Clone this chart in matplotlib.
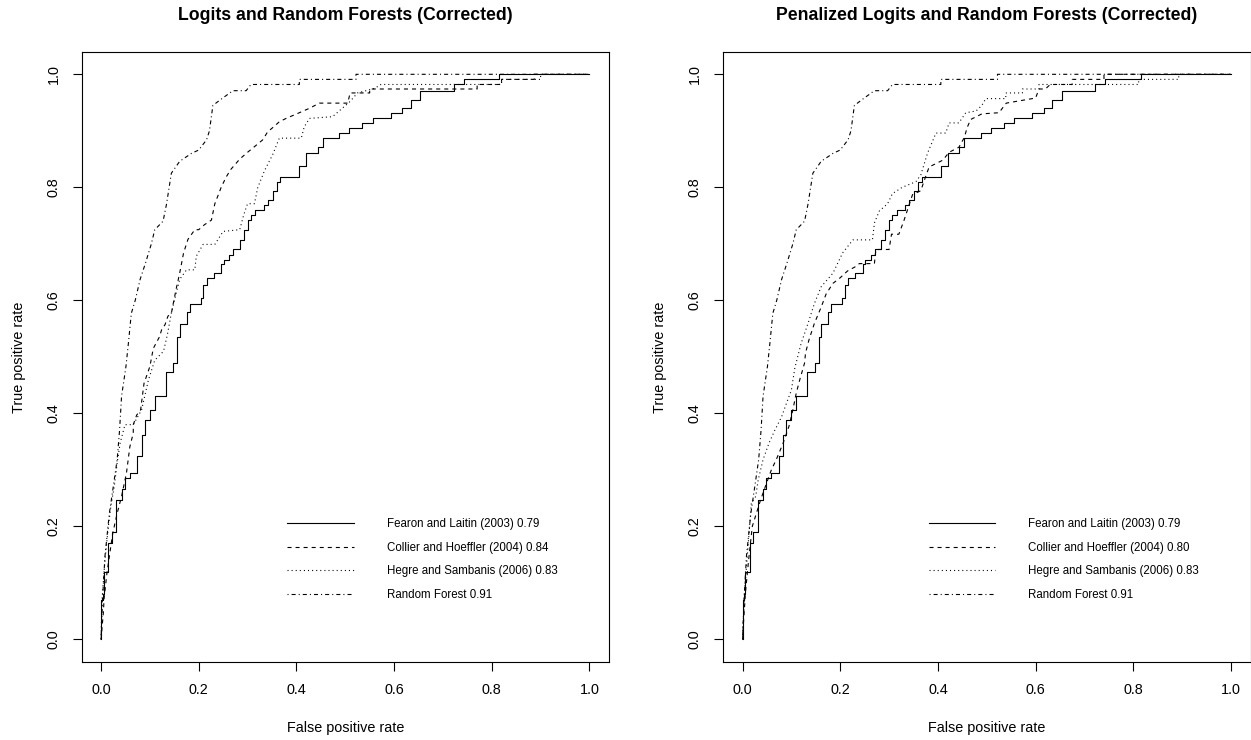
import matplotlib
matplotlib.use("Agg")
import matplotlib.pyplot as plt

plt.rcParams['font.family'] = ['Liberation Sans', 'DejaVu Sans']
plt.rcParams['lines.scale_dashes'] = False

# ROC points (false positive rate, true positive rate)

# Fearon and Laitin (2003) - same curve in both panels
fl_pts = [(0, 0), (0.003, 0.07), (0.006, 0.081), (0.015, 0.12), (0.022, 0.17), (0.031, 0.19),
          (0.042, 0.247), (0.049, 0.267), (0.059, 0.285), (0.074, 0.294), (0.083, 0.324),
          (0.09, 0.362), (0.1, 0.389), (0.11, 0.406), (0.119, 0.43), (0.133, 0.43),
          (0.135, 0.474), (0.148, 0.474), (0.156, 0.49), (0.161, 0.535), (0.175, 0.559),
          (0.182, 0.58), (0.188, 0.594), (0.204, 0.594), (0.209, 0.604), (0.216, 0.628),
          (0.221, 0.64), (0.231, 0.64), (0.246, 0.648), (0.251, 0.665), (0.262, 0.672),
          (0.271, 0.681), (0.284, 0.69), (0.292, 0.707), (0.3, 0.725), (0.307, 0.742),
          (0.316, 0.751), (0.333, 0.76), (0.341, 0.769), (0.352, 0.778), (0.36, 0.793),
          (0.367, 0.81), (0.376, 0.819), (0.406, 0.819), (0.42, 0.837), (0.428, 0.861),
          (0.444, 0.861), (0.454, 0.872), (0.461, 0.887), (0.488, 0.887), (0.488, 0.897),
          (0.508, 0.897), (0.512, 0.905), (0.535, 0.905), (0.539, 0.914), (0.556, 0.914),
          (0.556, 0.922), (0.593, 0.922), (0.597, 0.932), (0.617, 0.932), (0.617, 0.94),
          (0.634, 0.94), (0.636, 0.955), (0.654, 0.955), (0.658, 0.971), (0.722, 0.971),
          (0.722, 0.982), (0.743, 0.982), (0.743, 0.991), (0.815, 0.991), (0.815, 1.0), (1, 1)]

# Random Forest - same curve in both panels
rf_pts = [(0, 0), (0.003, 0.07), (0.008, 0.147), (0.017, 0.223), (0.025, 0.27), (0.033, 0.318),
          (0.038, 0.371), (0.042, 0.43), (0.051, 0.483), (0.056, 0.524), (0.062, 0.577),
          (0.07, 0.6), (0.08, 0.637), (0.091, 0.666), (0.103, 0.7), (0.11, 0.725),
          (0.127, 0.74), (0.134, 0.77), (0.144, 0.825), (0.161, 0.846), (0.185, 0.86),
          (0.2, 0.866), (0.216, 0.884), (0.222, 0.9), (0.229, 0.945), (0.246, 0.956),
          (0.27, 0.971), (0.297, 0.971), (0.307, 0.982), (0.406, 0.982), (0.406, 0.991),
          (0.522, 0.991), (0.522, 1.0), (1, 1)]

# Collier and Hoeffler (2004), logit
ch_pts = [(0, 0), (0.005, 0.05), (0.006, 0.07), (0.012, 0.117), (0.024, 0.188), (0.033, 0.223),
          (0.042, 0.253), (0.052, 0.294), (0.059, 0.341), (0.066, 0.365), (0.066, 0.38),
          (0.073, 0.397), (0.081, 0.406), (0.088, 0.453), (0.1, 0.483), (0.107, 0.515),
          (0.12, 0.536), (0.124, 0.548), (0.131, 0.557), (0.137, 0.572), (0.144, 0.577),
          (0.148, 0.595), (0.154, 0.621), (0.161, 0.648), (0.169, 0.684), (0.178, 0.708),
          (0.192, 0.725), (0.2, 0.725), (0.212, 0.734), (0.226, 0.742), (0.233, 0.771),
          (0.246, 0.8), (0.256, 0.818), (0.266, 0.832), (0.284, 0.85), (0.3, 0.862),
          (0.317, 0.874), (0.331, 0.884), (0.341, 0.898), (0.352, 0.906), (0.365, 0.916),
          (0.379, 0.922), (0.406, 0.932), (0.427, 0.94), (0.447, 0.949), (0.505, 0.949),
          (0.51, 0.967), (0.55, 0.967), (0.55, 0.974), (0.77, 0.974), (0.77, 0.982),
          (0.82, 0.982), (0.82, 0.991), (0.887, 0.991), (0.887, 1.0), (1, 1)]

# Hegre and Sambanis (2006), logit
hs_pts = [(0, 0), (0.002, 0.07), (0.008, 0.14), (0.015, 0.2), (0.02, 0.235), (0.027, 0.27),
          (0.033, 0.312), (0.039, 0.347), (0.049, 0.38), (0.066, 0.38), (0.083, 0.406),
          (0.097, 0.459), (0.11, 0.494), (0.128, 0.51), (0.136, 0.54), (0.144, 0.578),
          (0.154, 0.613), (0.161, 0.637), (0.175, 0.654), (0.192, 0.654), (0.195, 0.678),
          (0.209, 0.699), (0.233, 0.699), (0.25, 0.722), (0.284, 0.725), (0.292, 0.751),
          (0.3, 0.771), (0.314, 0.771), (0.321, 0.8), (0.335, 0.83), (0.352, 0.859),
          (0.365, 0.887), (0.41, 0.887), (0.416, 0.907), (0.427, 0.922), (0.474, 0.925),
          (0.494, 0.94), (0.51, 0.952), (0.525, 0.967), (0.56, 0.975), (0.573, 0.982),
          (0.82, 0.982), (0.82, 0.991), (0.9, 0.991), (0.9, 1.0), (1, 1)]

# Collier and Hoeffler (2004), penalized logit
ch_pen_pts = [(0, 0), (0.002, 0.03), (0.006, 0.083), (0.0125, 0.141), (0.02, 0.2), (0.037, 0.247),
              (0.049, 0.276), (0.059, 0.3), (0.069, 0.318), (0.083, 0.347), (0.095, 0.377),
              (0.103, 0.406), (0.11, 0.436), (0.117, 0.459), (0.127, 0.489), (0.129, 0.507),
              (0.136, 0.53), (0.147, 0.559), (0.161, 0.588), (0.171, 0.611), (0.185, 0.63),
              (0.2, 0.64), (0.215, 0.652), (0.232, 0.66), (0.239, 0.665), (0.27, 0.665),
              (0.273, 0.69), (0.3, 0.69), (0.305, 0.717), (0.32, 0.717), (0.33, 0.74),
              (0.348, 0.787), (0.365, 0.794), (0.372, 0.812), (0.382, 0.836), (0.41, 0.848),
              (0.423, 0.862), (0.443, 0.871), (0.454, 0.888), (0.46, 0.906), (0.467, 0.92),
              (0.49, 0.93), (0.525, 0.932), (0.532, 0.94), (0.54, 0.949), (0.6, 0.958),
              (0.607, 0.974), (0.62, 0.974), (0.63, 0.982), (0.675, 0.982), (0.675, 0.991),
              (0.74, 0.991), (0.74, 1.0), (1, 1)]

# Hegre and Sambanis (2006), penalized logit
hs_pen_pts = [(0, 0), (0.004, 0.083), (0.0113, 0.165), (0.018, 0.241), (0.027, 0.253),
              (0.032, 0.282), (0.042, 0.318), (0.054, 0.347), (0.066, 0.37), (0.08, 0.394),
              (0.09, 0.418), (0.1, 0.441), (0.107, 0.48), (0.12, 0.524), (0.134, 0.559),
              (0.147, 0.594), (0.161, 0.624), (0.185, 0.648), (0.205, 0.684), (0.226, 0.707),
              (0.266, 0.707), (0.27, 0.737), (0.28, 0.758), (0.297, 0.771), (0.307, 0.789),
              (0.327, 0.8), (0.355, 0.81), (0.365, 0.822), (0.379, 0.861), (0.396, 0.896),
              (0.416, 0.896), (0.423, 0.914), (0.443, 0.914), (0.457, 0.932), (0.478, 0.935),
              (0.49, 0.945), (0.498, 0.957), (0.539, 0.957), (0.539, 0.967), (0.573, 0.967),
              (0.573, 0.974), (0.607, 0.974), (0.607, 0.982), (0.811, 0.982), (0.811, 0.991),
              (0.893, 0.991), (0.893, 1.0), (1, 1)]

titles = ["Logits and Random Forests (Corrected)",
          "Penalized Logits and Random Forests (Corrected)"]
labels_left = ["Fearon and Laitin (2003) 0.79", "Collier and Hoeffler (2004) 0.84",
               "Hegre and Sambanis (2006) 0.83", "Random Forest 0.91"]
labels_right = ["Fearon and Laitin (2003) 0.79", "Collier and Hoeffler (2004) 0.80",
                "Hegre and Sambanis (2006) 0.83", "Random Forest 0.91"]
ticks = [0.0, 0.2, 0.4, 0.6, 0.8, 1.0]
tick_labels = ["0.0", "0.2", "0.4", "0.6", "0.8", "1.0"]

panels = [
    (titles[0], [fl_pts, ch_pts, hs_pts, rf_pts], labels_left),
    (titles[1], [fl_pts, ch_pen_pts, hs_pen_pts, rf_pts], labels_right),
]

# R-like line types: solid, dashed, dotted, dotdash
styles = ['-', (0, (2.9, 2.9)), (0, (0.75, 2.2)), (0, (0.75, 2.2, 2.9, 2.2))]
# the solid ROC curve is drawn as a staircase
draw = ['steps-pre', 'default', 'default', 'default']

W, H = 1251, 740
fig = plt.figure(figsize=(W / 100, H / 100), dpi=100)
box_left = [81.5, 723]
box_w = 527.5
box_top, box_bottom = 51.7, 662

for k, (title, curves, labels) in enumerate(panels):
    ax = fig.add_axes([box_left[k] / W, (H - box_bottom) / H, box_w / W, (box_bottom - box_top) / H])
    for pts, ls, ds, lab in zip(curves, styles, draw, labels):
        xs, ys = zip(*pts)
        ax.plot(xs, ys, color='black', lw=0.8, linestyle=ls, drawstyle=ds, label=lab)

    ax.set_xlim(-0.04, 1.04)
    ax.set_ylim(-0.04, 1.04)
    ax.set_xticks(ticks, tick_labels)
    ax.set_yticks(ticks, tick_labels, rotation=90, va='center')
    ax.tick_params(direction='out', length=6.2, width=0.8, labelsize=10.4, pad=9)
    for sp in ax.spines.values():
        sp.set_linewidth(0.8)

    ax.set_xlabel("False positive rate", fontsize=10.4)
    ax.xaxis.set_label_coords(0.5, -59 / (box_bottom - box_top))
    ax.set_ylabel("True positive rate", fontsize=10.4)
    ax.yaxis.set_label_coords(-56 / box_w, 0.5)

    ax.set_title(title, fontsize=12.7, fontweight='bold', y=1 + 36 / (box_bottom - box_top),
                 va='center', pad=0)

    ax.legend(loc='upper left', bbox_to_anchor=(0.3816, 0.2146), bbox_transform=ax.transData,
              frameon=False, fontsize=8.3, handlelength=5.74, handletextpad=2.87,
              labelspacing=1.0, borderpad=0, borderaxespad=0)

fig.savefig("out.png", dpi=100)
